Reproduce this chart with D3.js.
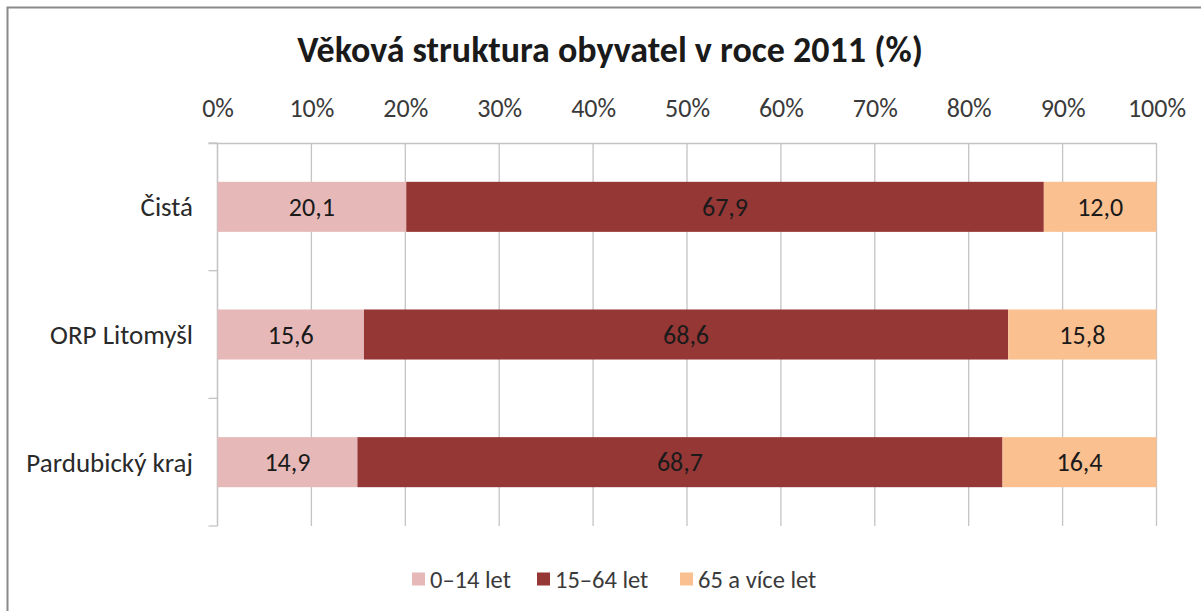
<!DOCTYPE html>
<html><head><meta charset="utf-8">
<script src="https://cdn.jsdelivr.net/npm/d3@7"></script>
<style>body{margin:0;background:#fff;} svg{display:block;font-family:Calibri,Carlito,"Open Sans","Liberation Sans",sans-serif;}</style>
</head><body>
<script>
const title = "Věková struktura obyvatel v roce 2011 (%)";
const categories = ["Čistá", "ORP Litomyšl", "Pardubický kraj"];
const seriesNames = ["0–14 let", "15–64 let", "65 a více let"];
const seriesColors = ["#e6b9b8", "#953735", "#fac090"];
const v0_14 = [20.1, 15.6, 14.9];
const v15_64 = [67.9, 68.6, 68.7];
const v65 = [12.0, 15.8, 16.4];
const tickValues = [0,10,20,30,40,50,60,70,80,90,100];

const W = 1201, H = 611;
const svg = d3.select("body").append("svg").attr("width", W).attr("height", H);

// frame
svg.append("path").attr("d", "M7.5,611 L7.5,7.5 L1201,7.5").attr("fill","none").attr("stroke","#8a8a8a").attr("stroke-width",2);

const x = d3.scaleLinear().domain([0,100]).range([217.5, 1156.5]);
const y = d3.scaleBand().domain(categories).range([143, 526]).paddingInner(0.608).paddingOuter(0.304);

// gridlines
svg.append("g").selectAll("line").data(tickValues).join("line")
  .attr("x1", d=>x(d)).attr("x2", d=>x(d)).attr("y1", 143).attr("y2", 526)
  .attr("stroke", "#c4c4c4").attr("stroke-width", 1.3);

// top axis
const xAxis = d3.axisTop(x).tickValues(tickValues).tickFormat(d=>d+"%").tickSize(0).tickPadding(26);
const gx = svg.append("g").attr("transform","translate(0,143)").call(xAxis);
gx.attr("font-family", null).attr("font-size", null);
gx.select(".domain").attr("stroke","#c4c4c4").attr("stroke-width",1.3).attr("d", `M${x(0)-9},0.5H${x(100)}`);
gx.selectAll("text").attr("font-size", 26).attr("fill","#3a3a3a");

// left axis line & category boundary ticks
const bounds = [143, 143 + (526-143)/3, 143 + 2*(526-143)/3, 526];
svg.append("line").attr("x1", x(0)).attr("x2", x(0)).attr("y1",143).attr("y2",526).attr("stroke","#c4c4c4").attr("stroke-width",1.3);
svg.append("g").selectAll("line").data(bounds).join("line")
  .attr("x1", x(0)-9).attr("x2", x(0)).attr("y1", d=>d).attr("y2", d=>d)
  .attr("stroke","#c4c4c4").attr("stroke-width",1.3);

// category labels
svg.append("g").selectAll("text").data(categories).join("text")
  .attr("x", 193).attr("y", d=>y(d)+y.bandwidth()/2).attr("dy","0.35em")
  .attr("text-anchor","end").attr("font-size",27).attr("fill","#2a2a2a").text(d=>d);

// stacked data
const rows = categories.map((c,i)=>({cat:c, a:v0_14[i], b:v15_64[i], c:v65[i]}));
const stack = d3.stack().keys(["a","b","c"])(rows);
const gs = svg.append("g").selectAll("g").data(stack).join("g").attr("fill",(d,i)=>seriesColors[i]);
gs.selectAll("rect").data(d=>d).join("rect")
  .attr("x", d=>x(d[0])).attr("width", d=>x(d[1])-x(d[0]))
  .attr("y", d=>y(d.data.cat)).attr("height", y.bandwidth());
const fmt = v => v.toFixed(1).replace(".", ",");
gs.selectAll("text").data(d=>d.map(p=>({p, key:d.key}))).join("text")
  .attr("x", d=>(x(d.p[0])+x(d.p[1]))/2).attr("y", d=>y(d.p.data.cat)+y.bandwidth()/2).attr("dy","0.35em")
  .attr("text-anchor","middle").attr("font-size",26).attr("fill","#1a1a1a")
  .text(d=>fmt(d.p.data[d.key]));

// title
svg.append("text").attr("x", 610).attr("y", 62).attr("text-anchor","middle")
  .attr("font-size", 36).attr("font-weight","bold").attr("fill","#1a1a1a").text(title);

// legend
const legX = [412, 537, 680];
const lg = svg.append("g").selectAll("g").data(seriesNames).join("g")
  .attr("transform",(d,i)=>`translate(${legX[i]},579)`);
lg.append("rect").attr("x",0).attr("y",-6.5).attr("width",13).attr("height",13).attr("fill",(d,i)=>seriesColors[i]);
lg.append("text").attr("x",18).attr("y",0).attr("dy","0.35em").attr("font-size",24.5).attr("fill","#3a3a3a").text(d=>d);
</script>
</body></html>
